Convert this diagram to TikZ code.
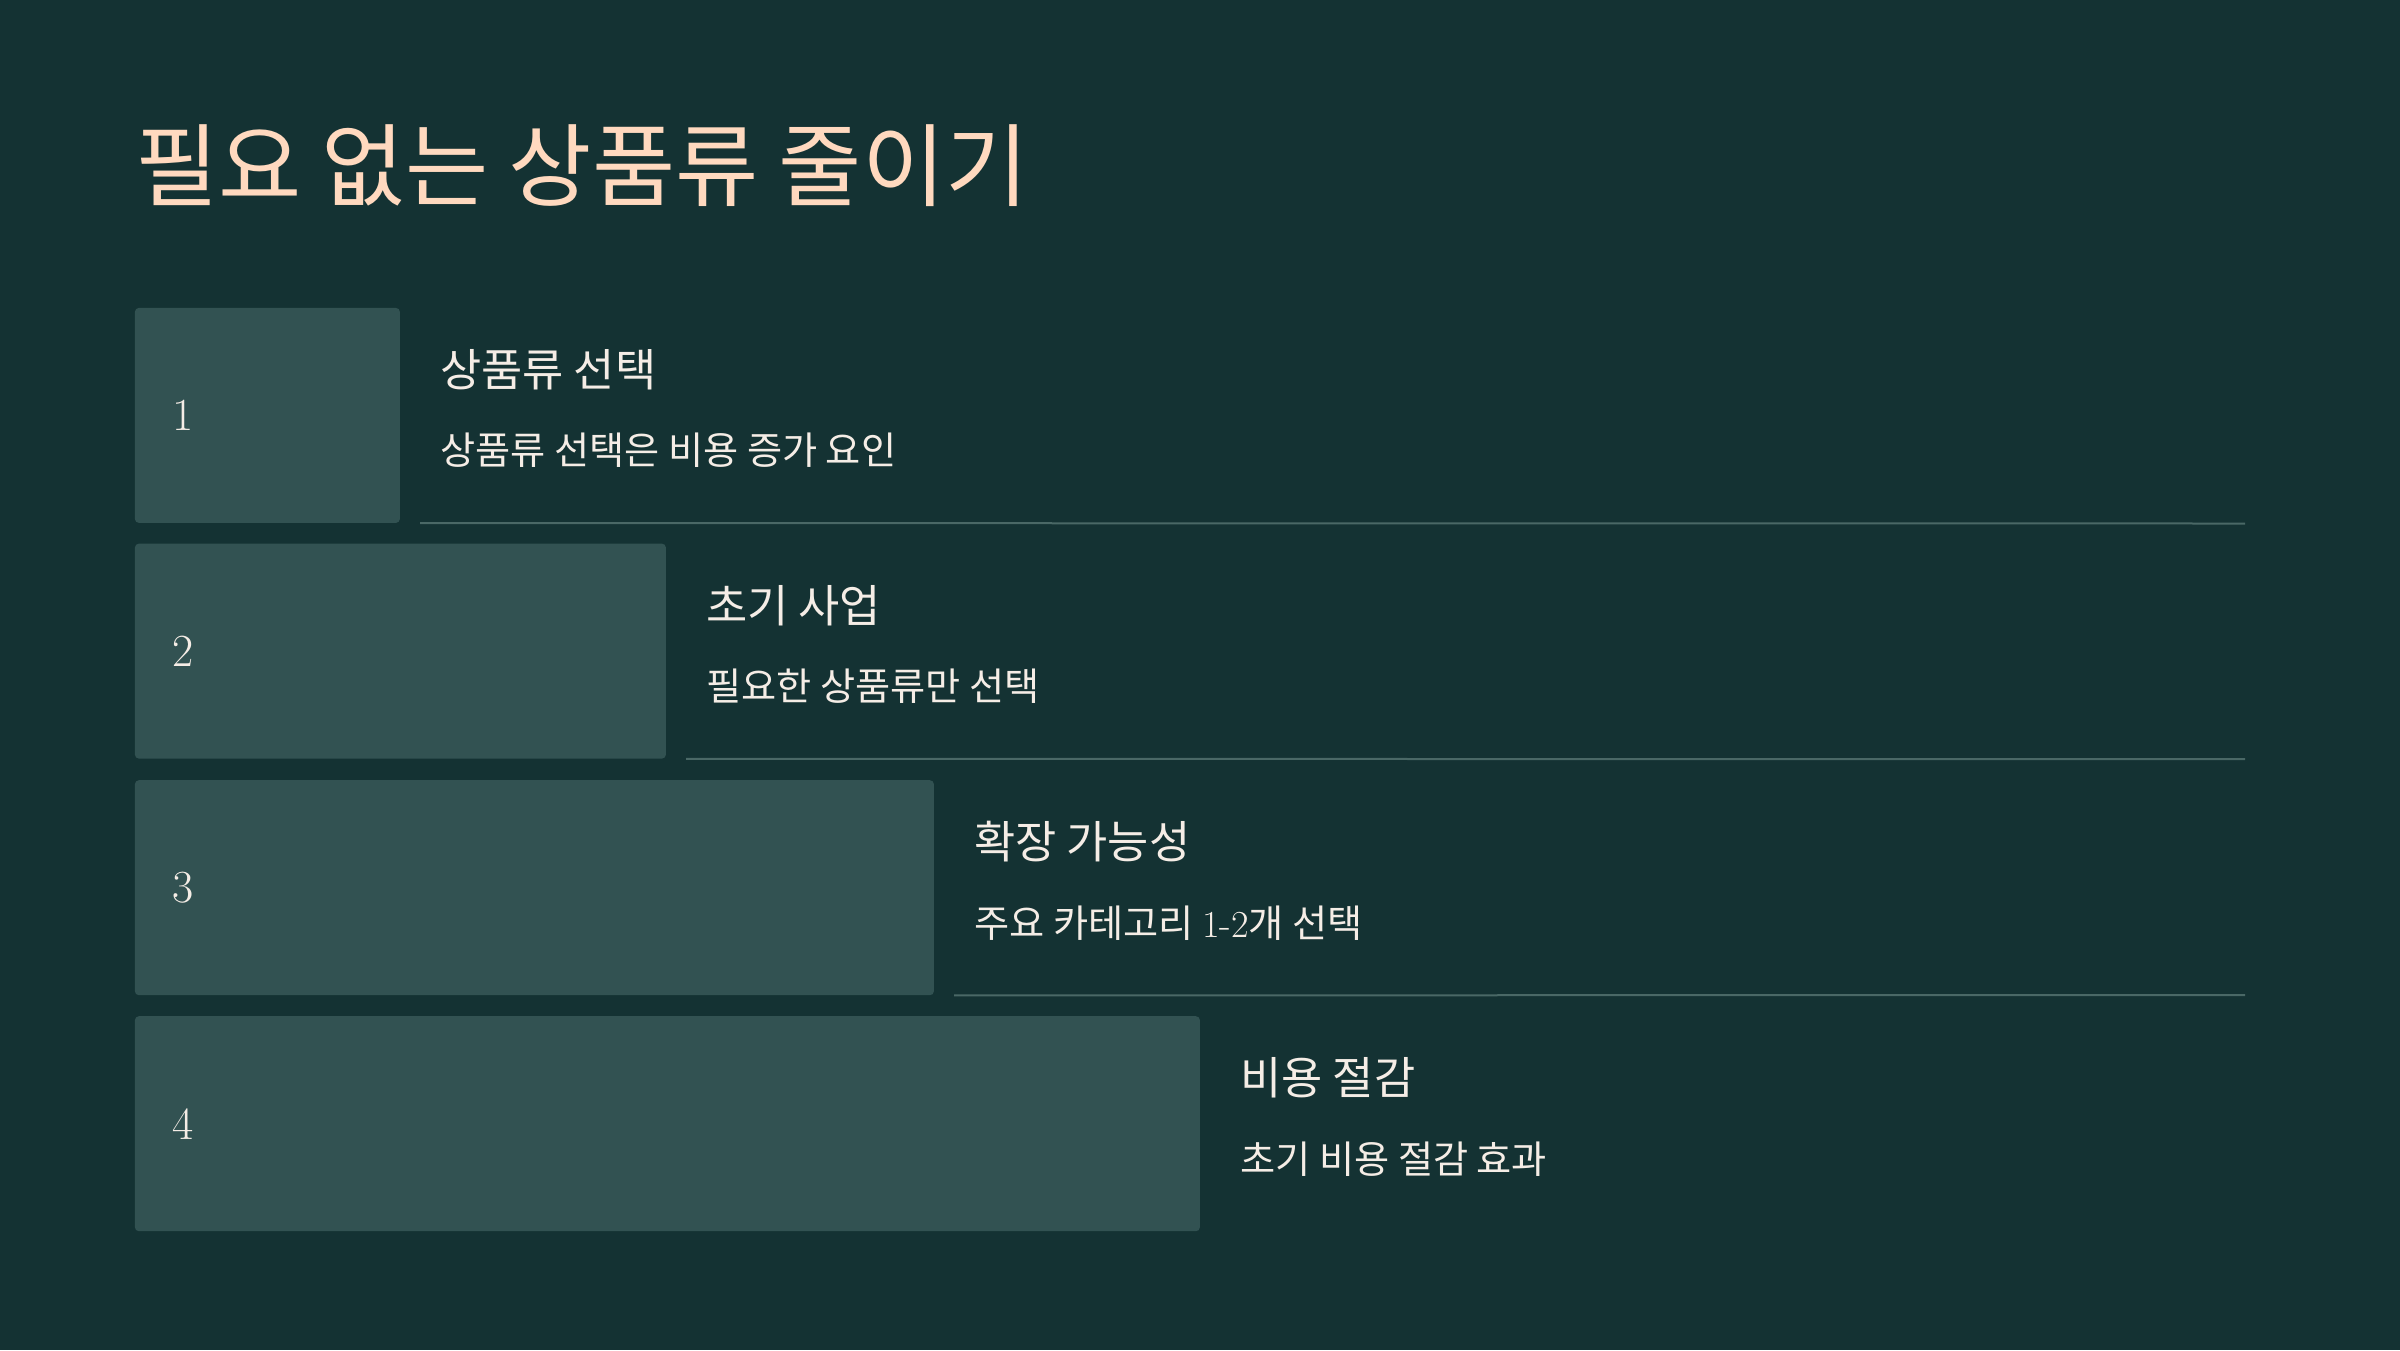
\documentclass[tikz,border=0pt]{standalone}
\usepackage{fontspec}
\newfontfamily\kr{Noto Sans CJK KR}
\definecolor{bgc}{HTML}{143233}
\definecolor{boxc}{HTML}{325252}
\definecolor{titlec}{HTML}{FFD9BF}
\definecolor{textc}{HTML}{F5EDE6}
\definecolor{sepc}{HTML}{4A6866}
\tikzset{
  numbox/.style={fill=boxc, rounded corners=4pt, inner sep=0pt, minimum height=215pt, anchor=north west},
  numlabel/.style={text=textc, font=\fontsize{46}{54}\selectfont, inner sep=0pt, anchor=west},
  headlabel/.style={text=textc, font=\kr\fontsize{44.8}{52}\selectfont, inner sep=0pt, anchor=west},
  bodylabel/.style={text=textc, font=\kr\fontsize{38.2}{46}\selectfont, inner sep=0pt, anchor=west},
  titlelabel/.style={text=titlec, font=\kr\fontsize{90.5}{100}\selectfont, inner sep=0pt, anchor=west},
  sepline/.style={draw=sepc, line width=2pt}
}
\begin{document}
\begin{tikzpicture}[x=1pt,y=-1pt]
\fill[bgc] (0,0) rectangle (2400,1350);
\useasboundingbox (0,0) rectangle (2400,1350);

\node[titlelabel] (title) at (135,166) {필요 없는 상품류 줄이기};

% boxes
\node[numbox, minimum width=265pt] (b1) at (134.7,307.7) {};
\node[numbox, minimum width=531pt] (b2) at (134.7,543.4) {};
\node[numbox, minimum width=799pt] (b3) at (134.7,780.0) {};
\node[numbox, minimum width=1065pt] (b4) at (134.7,1016.0) {};

% numbers
\node[numlabel] (n1) at ([xshift=38pt]b1.west) {1};
\node[numlabel] (n2) at ([xshift=38pt]b2.west) {2};
\node[numlabel] (n3) at ([xshift=38pt]b3.west) {3};
\node[numlabel] (n4) at ([xshift=38pt]b4.west) {4};

% headings and bodies
\node[headlabel] (h1) at ([xshift=40pt,yshift=-62pt]b1.north east) {상품류 선택};
\node[bodylabel] (t1) at ([xshift=40pt,yshift=-143pt]b1.north east) {상품류 선택은 비용 증가 요인};
\node[headlabel] (h2) at ([xshift=40pt,yshift=-62pt]b2.north east) {초기 사업};
\node[bodylabel] (t2) at ([xshift=40pt,yshift=-143pt]b2.north east) {필요한 상품류만 선택};
\node[headlabel] (h3) at ([xshift=40pt,yshift=-62pt]b3.north east) {확장 가능성};
\node[bodylabel] (t3) at ([xshift=40pt,yshift=-143pt]b3.north east) {주요 카테고리 {\rmfamily 1-2}개 선택};
\node[headlabel] (h4) at ([xshift=40pt,yshift=-62pt]b4.north east) {비용 절감};
\node[bodylabel] (t4) at ([xshift=40pt,yshift=-143pt]b4.north east) {초기 비용 절감 효과};

% separators
\coordinate (e1) at (2245,523.5);
\coordinate (e2) at (2245,759.2);
\coordinate (e3) at (2245,995.0);
\draw[sepline] ([xshift=20pt]b1.south east) -- (e1);
\draw[sepline] ([xshift=20pt]b2.south east) -- (e2);
\draw[sepline] ([xshift=20pt]b3.south east) -- (e3);
\end{tikzpicture}
\end{document}
